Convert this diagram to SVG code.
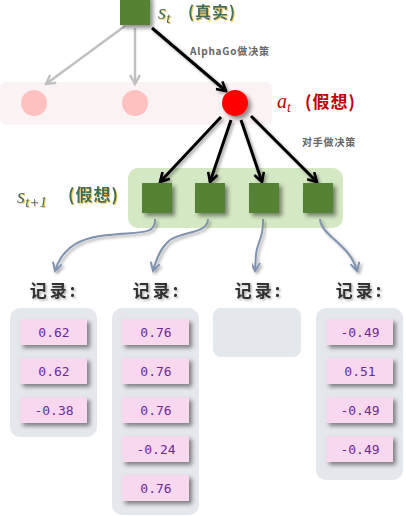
<svg xmlns="http://www.w3.org/2000/svg" width="406" height="516" viewBox="0 0 406 516">
<defs>
<filter id="sh" x="-30%" y="-30%" width="170%" height="170%"><feDropShadow dx="3" dy="3" stdDeviation="2" flood-color="#000" flood-opacity="0.45"/></filter>
<filter id="shl" x="-30%" y="-30%" width="170%" height="170%"><feDropShadow dx="2" dy="2" stdDeviation="1.5" flood-color="#000" flood-opacity="0.35"/></filter>
<filter id="tsg" x="-10%" y="-20%" width="130%" height="150%"><feDropShadow dx="1" dy="1" stdDeviation="0.4" flood-color="#e8c030" flood-opacity="0.8"/></filter>
<filter id="tsk" x="-10%" y="-20%" width="130%" height="150%"><feDropShadow dx="1.5" dy="1.5" stdDeviation="1" flood-color="#000" flood-opacity="0.3"/></filter>
<marker id="ak" viewBox="0 0 12 12" refX="10" refY="6" markerWidth="12" markerHeight="12" markerUnits="userSpaceOnUse" orient="auto"><path d="M1,1 L10,6 L1,11" fill="none" stroke="#000" stroke-width="2.6"/></marker>
<marker id="ag" viewBox="0 0 12 12" refX="10" refY="6" markerWidth="12" markerHeight="12" markerUnits="userSpaceOnUse" orient="auto"><path d="M1,1 L10,6 L1,11" fill="none" stroke="#c0c0c0" stroke-width="2.4"/></marker>
<marker id="ab" viewBox="0 0 12 12" refX="10" refY="6" markerWidth="11" markerHeight="11" markerUnits="userSpaceOnUse" orient="auto"><path d="M1,1 L10,6 L1,11" fill="none" stroke="#7f93b0" stroke-width="2.2"/></marker>
</defs>
<style>
.sq{fill:#548235;filter:url(#sh)}
.band{fill:#fbf2f3}
.gband{fill:#d5e8c4}
.kc{fill:none;stroke:#000;stroke-width:3;marker-end:url(#ak);filter:url(#shl)}
.gc{fill:none;stroke:#c0c0c0;stroke-width:2.5;marker-end:url(#ag)}
.bc{fill:none;stroke:#7f93b0;stroke-width:2;marker-end:url(#ab);filter:url(#shl)}
.panel{fill:#e4e7ec}
.cell{fill:#f8d8ef;filter:url(#sh)}
.val{font-family:"DejaVu Sans Mono","Liberation Mono",monospace;font-size:13px;fill:#6a2a9a;text-anchor:middle}
.rec{font-family:"Noto Sans CJK SC",sans-serif;font-size:17px;font-weight:bold;fill:#333;text-anchor:middle;letter-spacing:3px;filter:url(#tsk)}
.small{font-family:"Noto Sans CJK SC",sans-serif;font-size:10px;fill:#666;font-weight:bold;letter-spacing:0.8px}
.gt{fill:#3d6e5c;filter:url(#tsg)}
</style>
<rect class="band" x="0" y="82" width="272" height="43" rx="6"/>
<rect class="gband" x="128" y="168" width="215" height="60" rx="10"/>
<g id="connectors">
<path class="gc" d="M125,26 L46,84"/>
<path class="gc" d="M135,28 L135,84"/>
<path class="kc" d="M152,28 L226,91"/>
<path class="kc" d="M221,117 L160,182"/>
<path class="kc" d="M231,120 L210,182"/>
<path class="kc" d="M241,120 L262,182"/>
<path class="kc" d="M251,116 L317,182"/>
<path class="bc" d="M155,219 C156,236 140,231 100,236 C72,240 60,254 55,271"/>
<path class="bc" d="M208,219 C208,234 182,231 170,240 C160,248 156,260 153,271"/>
<path class="bc" d="M263,219 C264,238 257,242 256,254 L255,271"/>
<path class="bc" d="M320,219 C321,236 350,244 357,271"/>
</g>
<g id="root"><rect class="sq" x="120" y="-5" width="30" height="30"/>
<text class="gt" x="158" y="19" font-family="Liberation Serif,serif" font-style="italic" font-size="21">s<tspan font-size="15" dy="4">t</tspan></text>
<text class="gt" x="188" y="18" font-family="Noto Sans CJK SC,sans-serif" font-size="16" font-weight="bold" letter-spacing="1">(真实)</text>
</g>
<text class="small" x="190" y="55">AlphaGo做决策</text>
<g id="a1"><circle cx="34" cy="103" r="13" fill="#ffc0c0"/></g>
<g id="a2"><circle cx="135" cy="103" r="13" fill="#ffc0c0"/></g>
<g id="at"><circle cx="235" cy="103" r="13" fill="#ff0000" filter="url(#sh)"/>
<text x="277" y="108" font-family="Liberation Serif,serif" font-style="italic" font-size="20" fill="#c00000">a<tspan font-size="14" dy="4">t</tspan></text>
<text x="305" y="108" font-family="Noto Sans CJK SC,sans-serif" font-size="17" font-weight="bold" fill="#c00000" letter-spacing="1">(假想)</text>
</g>
<text class="small" x="302" y="146">对手做决策</text>
<g id="s1"><rect class="sq" x="142" y="183" width="30" height="30"/></g>
<g id="s2"><rect class="sq" x="195" y="183" width="30" height="30"/></g>
<g id="s3"><rect class="sq" x="249" y="183" width="30" height="30"/></g>
<g id="s4"><rect class="sq" x="303" y="183" width="30" height="30"/></g>
<text class="gt" x="17" y="203" font-family="Liberation Serif,serif" font-style="italic" font-size="21">s<tspan font-size="15" dy="4">t+1</tspan></text>
<text class="gt" x="68" y="201" font-family="Noto Sans CJK SC,sans-serif" font-size="17" font-weight="bold" letter-spacing="1">(假想)</text>
<g id="r1">
<text class="rec" x="54" y="297">记录:</text>
<rect class="panel" x="10" y="308" width="87" height="129" rx="10"/>
<rect class="cell" x="20" y="319" width="67" height="26"/><text class="val" x="54" y="337">0.62</text>
<rect class="cell" x="20" y="358" width="67" height="26"/><text class="val" x="54" y="376">0.62</text>
<rect class="cell" x="20" y="397" width="67" height="26"/><text class="val" x="54" y="415">-0.38</text>
</g>
<g id="r2">
<text class="rec" x="157" y="297">记录:</text>
<rect class="panel" x="112" y="308" width="87" height="207" rx="10"/>
<rect class="cell" x="122" y="319" width="67" height="26"/><text class="val" x="156" y="337">0.76</text>
<rect class="cell" x="122" y="358" width="67" height="26"/><text class="val" x="156" y="376">0.76</text>
<rect class="cell" x="122" y="397" width="67" height="26"/><text class="val" x="156" y="415">0.76</text>
<rect class="cell" x="122" y="436" width="67" height="26"/><text class="val" x="156" y="454">-0.24</text>
<rect class="cell" x="122" y="475" width="67" height="26"/><text class="val" x="156" y="493">0.76</text>
</g>
<g id="r3">
<text class="rec" x="259" y="297">记录:</text>
<rect class="panel" x="213" y="308" width="88" height="49" rx="8"/>
</g>
<g id="r4">
<text class="rec" x="360" y="297">记录:</text>
<rect class="panel" x="316" y="308" width="87" height="172" rx="10"/>
<rect class="cell" x="326" y="319" width="67" height="26"/><text class="val" x="360" y="337">-0.49</text>
<rect class="cell" x="326" y="358" width="67" height="26"/><text class="val" x="360" y="376">0.51</text>
<rect class="cell" x="326" y="397" width="67" height="26"/><text class="val" x="360" y="415">-0.49</text>
<rect class="cell" x="326" y="436" width="67" height="26"/><text class="val" x="360" y="454">-0.49</text>
</g>
</svg>
